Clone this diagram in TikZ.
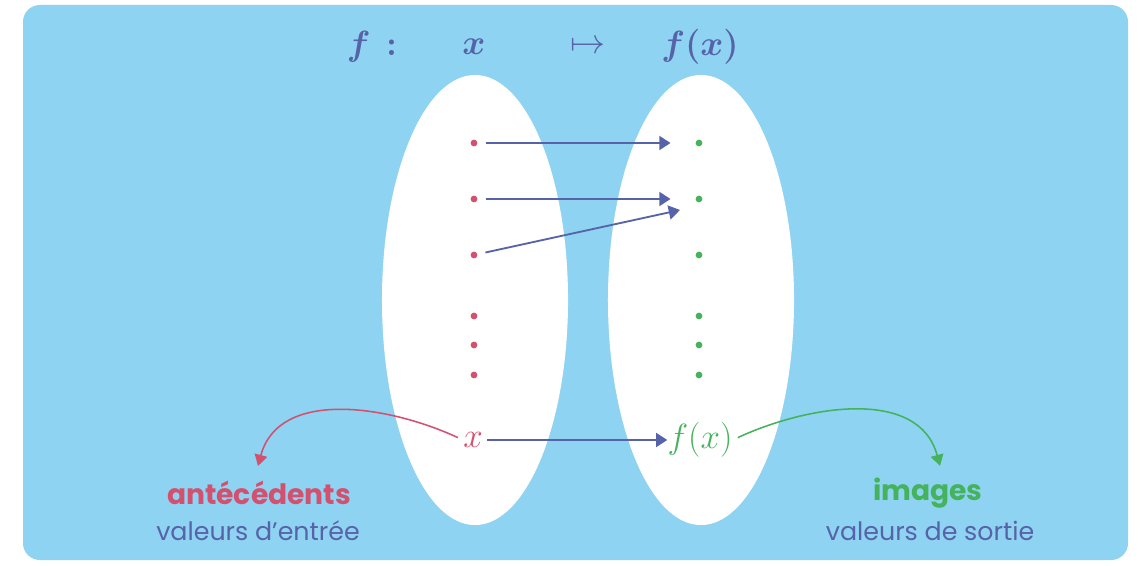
\documentclass[tikz,border=0pt]{standalone}
\usepackage{amsmath}
\usepackage{fontspec}
\setmainfont{Poppins}
\usetikzlibrary{arrows.meta, positioning, shapes.geometric}
\definecolor{sky}{HTML}{8ED3F1}
\definecolor{ink}{HTML}{5763A8}
\definecolor{rose}{HTML}{D3506F}
\definecolor{leaf}{HTML}{45B25C}

\begin{document}
\begin{tikzpicture}[x=0.025cm, y=-0.025cm,
        every node/.style={inner sep=0pt},
        set/.style={ellipse, fill=white, minimum width=4.65cm, minimum height=11.25cm},
        pre/.style={circle, fill=rose, minimum size=0.17cm},
        img/.style={circle, fill=leaf, minimum size=0.17cm},
        head/.style={text=ink, font=\fontsize{25}{30}\selectfont},
        elem/.style={font=\fontsize{28}{32}\selectfont},
        title/.style={font=\fontsize{20}{24}\selectfont\bfseries},
        note/.style={text=ink, font=\fontsize{18}{22}\selectfont},
        arr/.style={-{Triangle[length=8pt,width=10pt]}, line width=1.3pt, ink},
        curv/.style={-{Triangle[length=8pt,width=9pt]}, line width=1.1pt},
      ]
      \fill[white] (0,0) rectangle (1141,565);
      \fill[sky, rounded corners=12pt] (23,5) rectangle (1128,560);

      % the two sets
      \node[set] (dom)   at (475,300) {};
      \node[set] (codom) at (701,300) {};

      % heading
      \node[head] (hf)   at (372,47) {$\boldsymbol{f}\,\boldsymbol{:}$};
      \node[head] (hx)   at (474,47) {$\boldsymbol{x}$};
      \node[head] (hmap) at (588,47) {$\mapsto$};
      \node[head] (hfx)  at (700,47) {$\boldsymbol{f(x)}$};

      % elements
      \foreach \y [count=\i] in {143,199,255,316,345,375} {
        \node[pre] (a\i) at (474,\y) {};
        \node[img] (b\i) at (699,\y) {};
      }
      \node[elem, text=rose] (x)  at (473,440) {$x$};
      \node[elem, text=leaf] (fx) at (700,440) {$f(x)$};

      \coordinate (hit) at (680,210);
      \draw[arr, shorten <=0.2cm, shorten >=0.62cm] (a1) -- (b1);
      \draw[arr, shorten <=0.2cm, shorten >=0.62cm] (a2) -- (b2);
      \draw[arr, shorten <=0.2cm] (a3) -- (hit);
      \draw[arr, shorten <=3pt] (x) -- (fx);

      % labels
      \node[title, text=rose] (antec)  at (259,493) {antécédents};
      \node[note]             (entree) at (258,531) {valeurs d’entrée};
      \node[title, text=leaf] (images) at (928,493) {images};
      \node[note]             (sortie) at (930,531) {valeurs de sortie};

      \coordinate (rosetip) at (258,466);
      \coordinate (leaftip) at (940,466);
      \draw[curv, rose, shorten <=4pt] (x.west) to[out=155, in=75] (rosetip);
      \draw[curv, leaf, shorten <=4pt] (fx.east) to[out=25, in=105] (leaftip);
    \end{tikzpicture}
\end{document}
